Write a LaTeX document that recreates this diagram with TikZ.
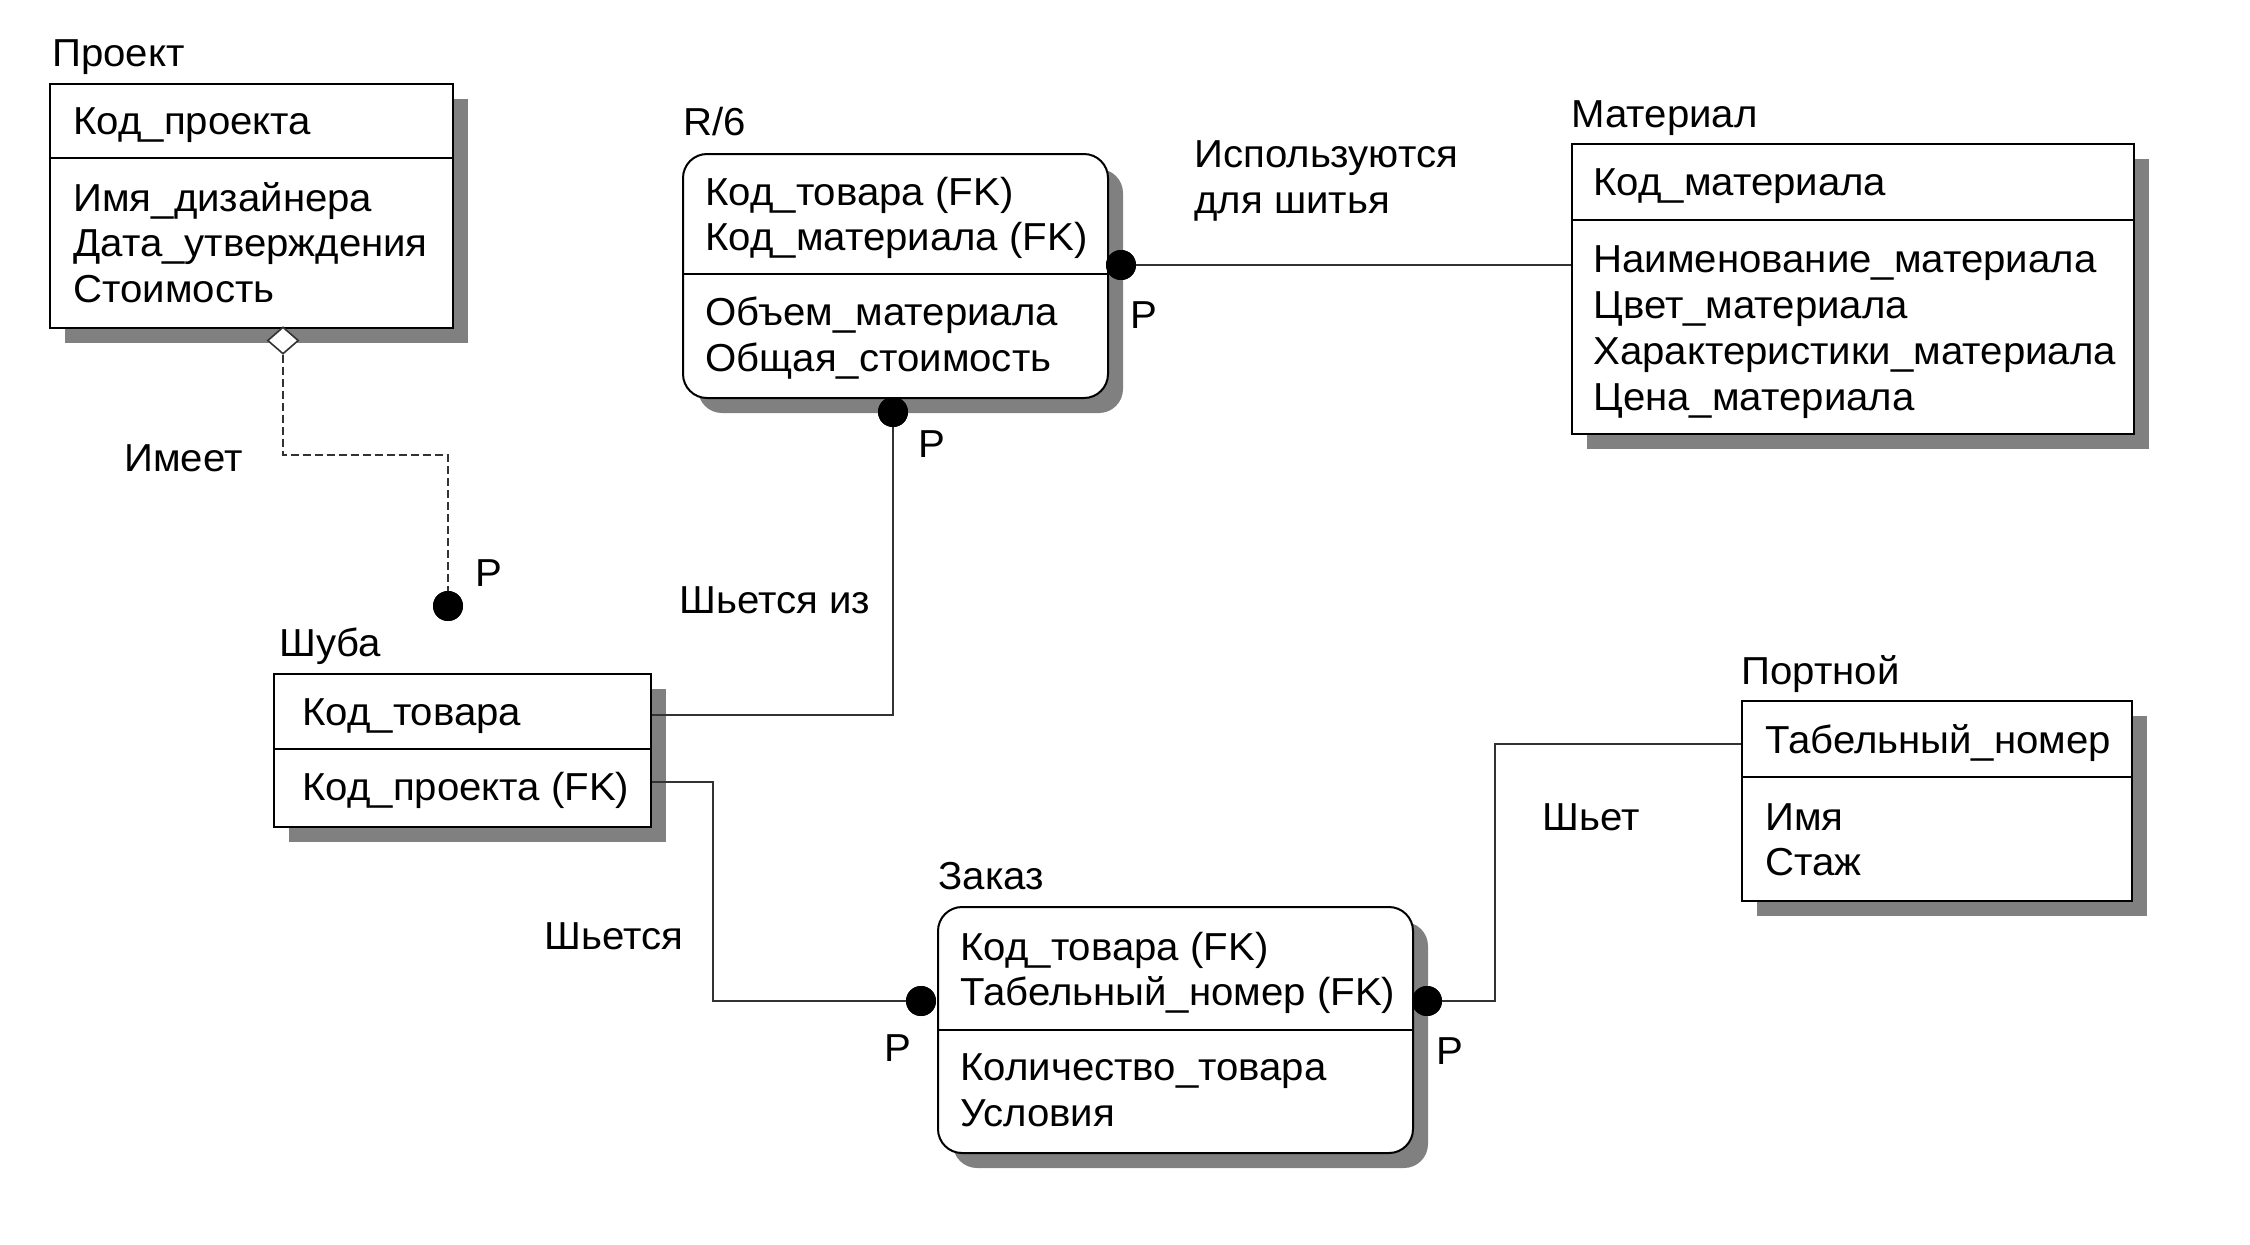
\documentclass[tikz,border=0pt]{standalone}
\usepackage{fontspec}
\setmainfont[FakeStretch=1.03]{Liberation Sans}
\usetikzlibrary{shapes.geometric,shadows}
\definecolor{shgray}{RGB}{128,128,128}
\definecolor{lngray}{RGB}{50,50,50}
\begin{document}
\begin{tikzpicture}[x=0.5pt,y=-0.5pt,
  ent/.style={draw=black, line width=1pt, fill=white, inner sep=0, anchor=north west,
    drop shadow={opacity=1, fill=shgray, shadow xshift=7.5pt, shadow yshift=-7.5pt}},
  dep/.style={ent, rounded corners=12pt},
  txt/.style={anchor=base west, inner sep=0, font=\fontsize{19.5}{23}\selectfont},
  divl/.style={draw=black, line width=1pt},
  conn/.style={draw=lngray, line width=0.9pt},
  idn/.style={conn, dash pattern=on 4pt off 2pt},
  dot/.style={circle, fill=black, inner sep=0, minimum size=15pt},
  dia/.style={diamond, draw=lngray, line width=0.8pt, fill=white, inner sep=0,
    minimum width=15.5pt, minimum height=13.5pt}]
\useasboundingbox[fill=white] (0,0) rectangle (2250,1244);

% ---- Проект
\node[ent, minimum width=201.5pt, minimum height=122pt] (proj) at (49,83) {};
\draw[divl] (proj.west |- 0,158) -- (proj.east |- 0,158);
\node[txt] (projT) at (52,66) {Проект};
\node[txt] (proj1) at (73,134) {Код\_проекта};
\node[txt] (proj2) at (73,211) {Имя\_дизайнера};
\node[txt] (proj3) at (73,256) {Дата\_утверждения};
\node[txt] (proj4) at (73,302) {Стоимость};

% ---- Шуба
\node[ent, minimum width=188.5pt, minimum height=76.5pt] (shuba) at (273,673) {};
\draw[divl] (shuba.west |- 0,749) -- (shuba.east |- 0,749);
\node[txt] (shubaT) at (279,656) {Шуба};
\node[txt] (shuba1) at (302,725) {Код\_товара};
\node[txt] (shuba2) at (302,800) {Код\_проекта (FK)};

% ---- R/6
\node[dep, minimum width=212.5pt, minimum height=122pt] (rsix) at (682,153) {};
\draw[divl] (rsix.west |- 0,274) -- (rsix.east |- 0,274);
\node[txt] (rsixT) at (683,135) {R/6};
\node[txt] (rsix1) at (705,205) {Код\_товара (FK)};
\node[txt] (rsix2) at (705,250) {Код\_материала (FK)};
\node[txt] (rsix3) at (705,325) {Объем\_материала};
\node[txt] (rsix4) at (705,371) {Общая\_стоимость};

% ---- Материал
\node[ent, minimum width=281pt, minimum height=145pt] (mat) at (1571,143) {};
\draw[divl] (mat.west |- 0,220) -- (mat.east |- 0,220);
\node[txt] (matT) at (1571,127) {Материал};
\node[txt] (mat1) at (1593,195) {Код\_материала};
\node[txt] (mat2) at (1593,272) {Наименование\_материала};
\node[txt] (mat3) at (1593,318) {Цвет\_материала};
\node[txt] (mat4) at (1593,364) {Характеристики\_материала};
\node[txt] (mat5) at (1593,410) {Цена\_материала};

% ---- Портной
\node[ent, minimum width=195pt, minimum height=100pt] (port) at (1741,700) {};
\draw[divl] (port.west |- 0,777) -- (port.east |- 0,777);
\node[txt] (portT) at (1741,684) {Портной};
\node[txt] (port1) at (1765,753) {Табельный\_номер};
\node[txt] (port2) at (1765,830) {Имя};
\node[txt] (port3) at (1765,875) {Стаж};

% ---- Заказ
\node[dep, minimum width=237.5pt, minimum height=123pt] (zak) at (937,906) {};
\draw[divl] (zak.west |- 0,1030) -- (zak.east |- 0,1030);
\node[txt] (zakT) at (938,889) {Заказ};
\node[txt] (zak1) at (960,960) {Код\_товара (FK)};
\node[txt] (zak2) at (960,1005) {Табельный\_номер (FK)};
\node[txt] (zak3) at (960,1080) {Количество\_товара};
\node[txt] (zak4) at (960,1126) {Условия};

% ---- connector ends
\node[dia] (dA) at (283,340.5) {};
\node[dot] (pA) at (448,606) {};
\node[dot] (pR) at (1121,265) {};
\node[dot] (pB) at (893,412) {};
\node[dot] (pL) at (921,1001) {};
\node[dot] (pZ) at (1427,1001) {};
\coordinate (bA) at (448,455);
\coordinate (bB) at (893,715);
\coordinate (bL) at (713,782);
\coordinate (bZ) at (1495,744);

% ---- connectors
\draw[idn] (dA.south) |- (bA) -- (pA.center);
\draw[conn] (pR.center) -- (mat.west |- pR);
\draw[conn] (pB.center) -- (bB) -- (shuba.east |- bB);
\draw[conn] (shuba.east |- bL) -- (bL) |- (pL.center);
\draw[conn] (pZ.center) -| (bZ) -- (port.west |- bZ);
\node[dot] at (pA) {};
\node[dot] at (pR) {};
\node[dot] at (pB) {};
\node[dot] at (pL) {};
\node[dot] at (pZ) {};

% ---- labels
\node[txt] (lbl1) at (1194,167) {Используются};
\node[txt] (lbl2) at (1194,213) {для шитья};
\node[txt] (lbl3) at (124,471) {Имеет};
\node[txt] (lbl4) at (679,613) {Шьется из};
\node[txt] (lbl5) at (544,949) {Шьется};
\node[txt] (lbl6) at (1542,830) {Шьет};
\node[txt] (P1) at (475,586) {P};
\node[txt] (P2) at (1130,328) {P};
\node[txt] (P3) at (918,457) {P};
\node[txt] (P4) at (884,1061) {P};
\node[txt] (P5) at (1436,1064) {P};
\end{tikzpicture}
\end{document}
